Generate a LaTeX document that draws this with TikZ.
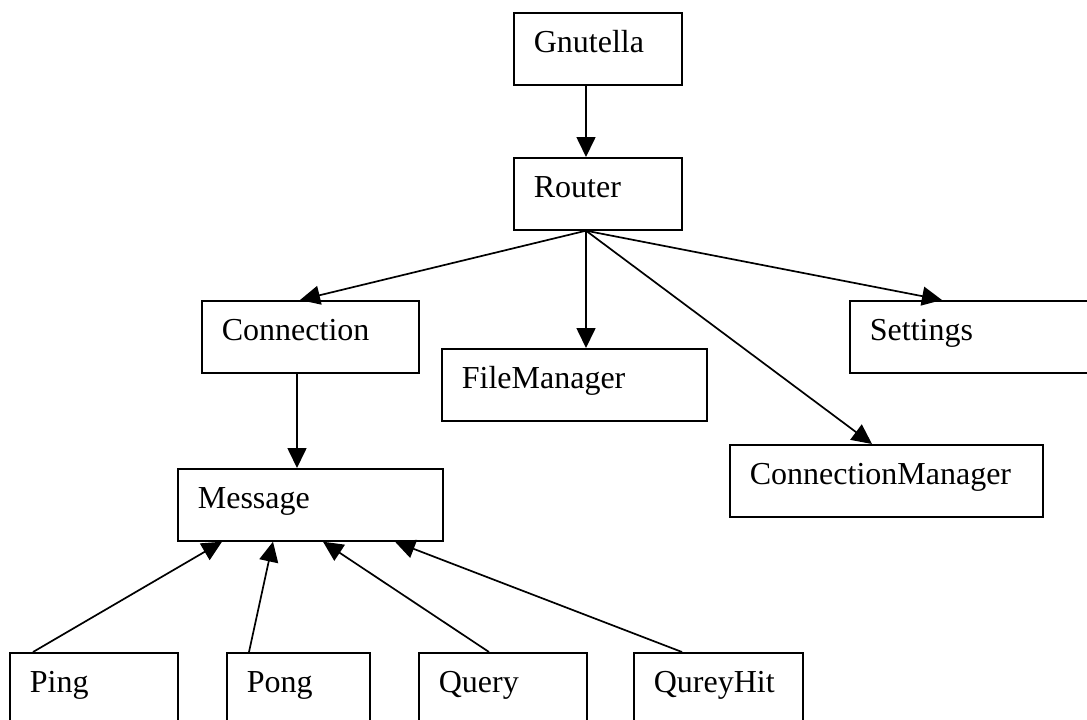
\documentclass[tikz,border=0pt]{standalone}
\usepackage{fontspec}
\setmainfont{Liberation Serif}
\usetikzlibrary{arrows.meta,calc}
\tikzset{
  box/.style={draw=black, line width=1.7pt, anchor=north west, rectangle,
    minimum height=72pt, inner xsep=20pt, inner ysep=0pt, align=left,
    text height=24pt, text depth=16pt,
    font=\fontsize{32}{38}\selectfont},
  conn/.style={draw=black, line width=1.7pt, -{Triangle[length=20pt,width=19pt]}},
}
\begin{document}
\begin{tikzpicture}[x=1pt,y=-1pt]
\useasboundingbox (0,0) rectangle (1087,720);
\node[box, text width=128pt] (gnutella) at (513,12) {Gnutella};
\node[box, text width=128pt] (router) at (513,157) {Router};
\node[box, text width=177pt] (connection) at (201,300) {Connection};
\node[box, text width=225pt] (filemanager) at (441,348) {FileManager};
\node[box, text width=211pt] (settings) at (849,300) {Settings};
\node[box, text width=273pt] (cm) at (729,444) {ConnectionManager};
\node[box, text width=225pt] (message) at (177,468) {Message};
\node[box, text width=128pt] (ping) at (9,652) {Ping};
\node[box, text width=103pt] (pong) at (226,652) {Pong};
\node[box, text width=128pt] (query) at (418,652) {Query};
\node[box, text width=129pt] (qh) at (633,652) {QureyHit};

\draw[conn] ($(gnutella.south west)+(73,0)$) -- ($(router.north west)+(73,0)$);
\coordinate (rout) at ($(router.south west)+(73,0)$);
\draw[conn] (rout) -- ($(connection.north west)+(99,0)$);
\draw[conn] (rout) -- ($(filemanager.north west)+(145,0)$);
\draw[conn] (rout) -- ($(cm.north west)+(143,0)$);
\draw[conn] (rout) -- ($(settings.north west)+(93,0)$);
\draw[conn] ($(connection.south west)+(96,0)$) -- ($(message.north west)+(120,0)$);
\draw[conn] ($(ping.north west)+(24,0)$) -- ($(message.south west)+(45,0)$);
\draw[conn] ($(pong.north west)+(23,0)$) -- ($(message.south west)+(96,0)$);
\draw[conn] ($(query.north west)+(71,0)$) -- ($(message.south west)+(146,0)$);
\draw[conn] ($(qh.north west)+(49,0)$) -- ($(message.south west)+(218,0)$);
\end{tikzpicture}
\end{document}
